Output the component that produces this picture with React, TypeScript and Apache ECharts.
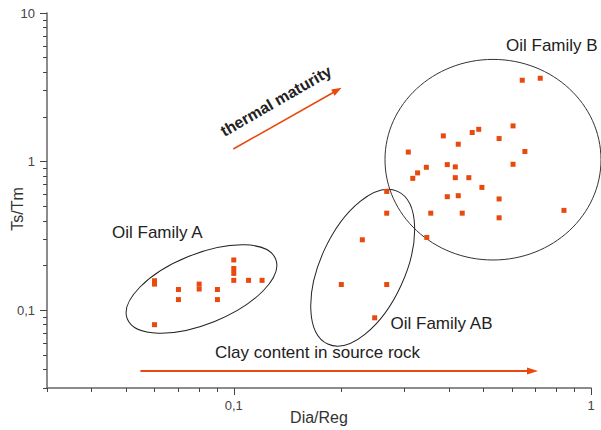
import React, { useEffect, useRef } from "react";
import * as echarts from "echarts";

// Data (log-log scatter)
const familyA: [number, number][] = [
  [0.06, 0.158], [0.06, 0.15], [0.06, 0.08],
  [0.07, 0.138], [0.07, 0.118],
  [0.08, 0.15], [0.08, 0.139],
  [0.09, 0.138], [0.09, 0.118],
  [0.1, 0.218], [0.1, 0.191], [0.1, 0.177], [0.1, 0.159],
  [0.11, 0.159], [0.12, 0.159],
];
const familyAB: [number, number][] = [
  [0.2, 0.149], [0.229, 0.298], [0.248, 0.089], [0.268, 0.149],
  [0.268, 0.45], [0.268, 0.63],
];
const familyB: [number, number][] = [
  [0.642, 3.53], [0.721, 3.64], [0.605, 1.74], [0.485, 1.65], [0.465, 1.57],
  [0.386, 1.49], [0.553, 1.43], [0.425, 1.31], [0.308, 1.16], [0.653, 1.17],
  [0.346, 0.916], [0.327, 0.84], [0.317, 0.772], [0.396, 0.955], [0.417, 0.922],
  [0.605, 0.96], [0.417, 0.78], [0.455, 0.78], [0.495, 0.671], [0.396, 0.581],
  [0.425, 0.59], [0.553, 0.561], [0.356, 0.45], [0.436, 0.45], [0.553, 0.419],
  [0.84, 0.47], [0.347, 0.309],
];
const xMinorTicks = [0.03, 0.04, 0.05, 0.06, 0.07, 0.08, 0.09, 0.1, 0.2, 0.3, 0.4, 0.5, 0.6, 0.7, 0.8, 0.9, 1];
const xMajorTicks = [0.1, 1];
const yMinorTicks = [0.03, 0.04, 0.05, 0.06, 0.07, 0.08, 0.09, 0.1, 0.2, 0.3, 0.4, 0.5, 0.6, 0.7, 0.8, 0.9, 1, 2, 3, 4, 5, 6, 7, 8, 9, 10];
const yMajorTicks = [0.1, 1, 10];

const FONT = "'Liberation Sans', Arial, sans-serif";
const ORANGE = "#e8490c";
const AXIS = "#666666";

const fmt = (v: number) => String(+v.toPrecision(6)).replace(".", ",");

export default function App() {
  const ref = useRef<HTMLDivElement>(null);
  useEffect(() => {
    if (!ref.current) return;
    const chart = echarts.init(ref.current, null, { renderer: "svg" });
    const commonX = { type: "log" as const, logBase: 10, min: 0.03, max: 1, gridIndex: 0, position: "bottom" as const, splitLine: { show: false } };
    const commonY = { type: "log" as const, logBase: 10, min: 0.03, max: 10, gridIndex: 0, position: "left" as const, splitLine: { show: false } };
    const scatter = (name: string, data: [number, number][]) => ({
      name,
      type: "scatter",
      data,
      symbol: "rect",
      symbolSize: 5,
      itemStyle: { color: ORANGE, opacity: 1 },
      xAxisIndex: 0,
      yAxisIndex: 0,
    });
    const arrowLen = 124.5;
    chart.setOption({
      animation: false,
      grid: { left: 47, top: 13, right: 10, bottom: 41 },
      xAxis: [
        {
          ...commonX,
          name: "Dia/Reg",
          nameLocation: "middle",
          nameGap: 21,
          nameTextStyle: { fontFamily: FONT, fontSize: 16, color: "#333" },
          axisLine: { show: true, lineStyle: { color: AXIS, width: 1.5 } },
          axisTick: { show: true, inside: false, length: 4, customValues: xMinorTicks, lineStyle: { color: "#444" } },
          axisLabel: { show: false },
        },
        {
          ...commonX,
          axisLine: { show: false },
          axisTick: { show: true, inside: false, length: 7, customValues: xMajorTicks, lineStyle: { color: "#444" } },
          axisLabel: { show: true, customValues: xMajorTicks, formatter: fmt, margin: 11, fontFamily: FONT, fontSize: 13, color: "#444" },
        },
      ],
      yAxis: [
        {
          ...commonY,
          axisLine: { show: true, lineStyle: { color: AXIS, width: 1.5 } },
          axisTick: { show: true, inside: false, length: 4, customValues: yMinorTicks, lineStyle: { color: "#444" } },
          axisLabel: { show: false },
        },
        {
          ...commonY,
          axisLine: { show: false },
          axisTick: { show: true, inside: false, length: 7, customValues: yMajorTicks, lineStyle: { color: "#444" } },
          axisLabel: { show: true, customValues: yMajorTicks, formatter: fmt, margin: 12, fontFamily: FONT, fontSize: 13, color: "#444" },
        },
      ],
      series: [scatter("Oil Family A", familyA), scatter("Oil Family AB", familyAB), scatter("Oil Family B", familyB)],
      graphic: [
        { type: "ellipse", x: 201.5, y: 289, rotation: (22 * Math.PI) / 180, shape: { cx: 0, cy: 0, rx: 80, ry: 35 }, style: { fill: "none", stroke: "#222", lineWidth: 1 }, silent: true },
        { type: "ellipse", x: 362.7, y: 267.7, rotation: (65.4 * Math.PI) / 180, shape: { cx: 0, cy: 0, rx: 84, ry: 42.3 }, style: { fill: "none", stroke: "#222", lineWidth: 1 }, silent: true },
        { type: "ellipse", x: 493, y: 159.7, shape: { cx: 0, cy: 0, rx: 108, ry: 100.3 }, style: { fill: "none", stroke: "#333", lineWidth: 1 }, silent: true },
        { type: "text", x: 112, y: 232, style: { text: "Oil Family A", font: `17px ${FONT}`, fill: "#222", align: "left", verticalAlign: "middle", textAlign: "left", textVerticalAlign: "middle" } },
        { type: "text", x: 390.5, y: 323.5, style: { text: "Oil Family AB", font: `17px ${FONT}`, fill: "#222", align: "left", verticalAlign: "middle", textAlign: "left", textVerticalAlign: "middle" } },
        { type: "text", x: 506, y: 45, style: { text: "Oil Family B", font: `17px ${FONT}`, fill: "#222", align: "left", verticalAlign: "middle", textAlign: "left", textVerticalAlign: "middle" } },
        { type: "text", x: 215, y: 352.5, style: { text: "Clay content in source rock", font: `17px ${FONT}`, fill: "#222", align: "left", verticalAlign: "middle", textAlign: "left", textVerticalAlign: "middle" } },
        { type: "text", x: 17.5, y: 209, rotation: Math.PI / 2, style: { text: "Ts/Tm", font: `16px ${FONT}`, fill: "#333", align: "center", verticalAlign: "middle", textAlign: "center", textVerticalAlign: "middle" } },
        { type: "text", x: 276, y: 101, rotation: (30 * Math.PI) / 180, style: { text: "thermal maturity", font: `bold 16px ${FONT}`, fill: "#222", align: "center", verticalAlign: "middle", textAlign: "center", textVerticalAlign: "middle" } },
        // clay content arrow
        { type: "line", shape: { x1: 140.4, y1: 371, x2: 530, y2: 371 }, style: { stroke: ORANGE, lineWidth: 2 }, silent: true },
        { type: "polygon", shape: { points: [[527, 367.5], [538, 371], [527, 374.5]] }, style: { fill: ORANGE }, silent: true },
        // thermal maturity arrow
        {
          type: "group",
          x: 233.3,
          y: 149,
          rotation: (29.5 * Math.PI) / 180,
          silent: true,
          children: [
            { type: "line", shape: { x1: 0, y1: 0, x2: arrowLen - 6, y2: 0 }, style: { stroke: ORANGE, lineWidth: 1.6 } },
            { type: "polygon", shape: { points: [[arrowLen - 10, -3.5], [arrowLen, 0], [arrowLen - 10, 3.5]] }, style: { fill: ORANGE } },
          ],
        },
      ],
    });
    return () => chart.dispose();
  }, []);
  return <div ref={ref} style={{ position: "absolute", left: 0, top: 0, width: 601, height: 430 }} />;
}
